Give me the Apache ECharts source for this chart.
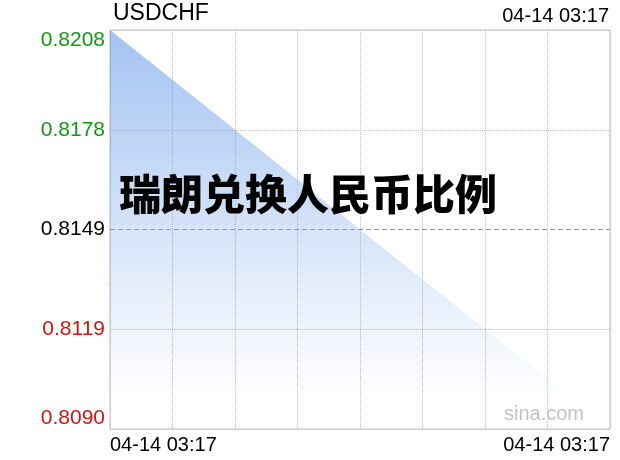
<!DOCTYPE html>
<html>
<head>
<meta charset="utf-8">
<script src="https://cdn.jsdelivr.net/npm/echarts@6/dist/echarts.min.js"></script>
<style>html,body{margin:0;padding:0;background:#fff}#c{width:620px;height:460px}</style>
</head>
<body>
<div id="c"></div>
<script>
// ---- data ----
var symbol = 'USDCHF';
var chartTitle = '瑞朗兑换人民币比例';
var times = ['04-14 03:17', '04-14 03:17'];
var values = [0.8208, 0.8090];
var yTickLabels = ['0.8090', '0.8119', '0.8149', '0.8178', '0.8208'];
var prevClose = 0.8149;
var prevCloseLine = [prevClose, prevClose];
var yMin = 0.8090, yMax = 0.8208;
var updateTime = '04-14 03:17';
var watermark = 'sina.com';

var FONT = 'Liberation Sans, Arial, Helvetica, sans-serif';
var chart = echarts.init(document.getElementById('c'), null, {renderer: 'canvas'});
var option = {
  animation: false,
  backgroundColor: '#fff',
  grid: {left: 110, right: 10, top: 30, bottom: 31, show: true, borderColor: '#bdbdbd', borderWidth: 1, backgroundColor: 'transparent'},
  xAxis: [
    {
      type: 'category', data: times, boundaryGap: false,
      axisLine: {show: false}, axisTick: {show: false}, splitLine: {show: false},
      axisLabel: {show: true, interval: 0, fontSize: 20, color: '#000', fontFamily: FONT, margin: 6,
        alignMinLabel: 'left', alignMaxLabel: 'right'}
    },
    {
      type: 'value', min: 0, max: 8, interval: 1, position: 'bottom',
      axisLine: {show: false}, axisTick: {show: false}, axisLabel: {show: false},
      splitLine: {show: true, lineStyle: {color: '#c4c4c4', type: [1, 1], width: 1}}
    }
  ],
  yAxis: [
    {
      type: 'value', min: yMin, max: yMax,
      axisLine: {show: false}, axisTick: {show: false}, axisLabel: {show: false}, splitLine: {show: false}
    },
    {
      type: 'category', data: yTickLabels, boundaryGap: false, position: 'left',
      axisLine: {show: false}, axisTick: {show: false},
      splitLine: {show: true, interval: 0, lineStyle: {color: ['#c4c4c4', '#c4c4c4', 'rgba(0,0,0,0)', '#c4c4c4', '#c4c4c4'], type: [1, 1], width: 1}},
      axisLabel: {
        interval: 0, fontSize: 21, fontFamily: FONT, margin: 5,
        verticalAlignMinLabel: 'bottom', verticalAlignMaxLabel: 'top',
        color: function (v) {
          var n = parseFloat(v);
          if (n > prevClose) return '#119a11';
          if (n < prevClose) return '#d21515';
          return '#000';
        }
      }
    }
  ],
  graphic: [
    {type: 'text', left: 113, top: 2, style: {text: symbol, fontSize: 23, fontFamily: FONT, fill: '#000'}},
    {type: 'text', right: 11, top: 6, style: {text: updateTime, fontSize: 20, fontFamily: FONT, fill: '#000'}},
    {type: 'text', right: 36, top: 404, style: {text: watermark, fontSize: 20, fontFamily: FONT, fill: '#c4c4c4'}},
    {type: 'text', left: 119, top: 173, z: 100, style: {text: chartTitle, fontSize: 42, fontWeight: 900, fontFamily: 'Noto Sans CJK SC', fill: '#000'}}
  ],
  series: [{
    type: 'line', xAxisIndex: 0, yAxisIndex: 0, data: values,
    showSymbol: false, symbol: 'none',
    lineStyle: {width: 0},
    areaStyle: {
      opacity: 1,
      color: new echarts.graphic.LinearGradient(0, 0, 0, 1, [
        {offset: 0, color: 'rgba(80,140,230,0.52)'},
        {offset: 0.92, color: 'rgba(80,140,230,0)'}
      ])
    }
  }, {
    type: 'line', xAxisIndex: 0, yAxisIndex: 0, data: prevCloseLine,
    showSymbol: false, symbol: 'none', silent: true,
    lineStyle: {color: '#999', type: [5, 3], width: 1}
  }]
};
chart.setOption(option);
</script>
</body>
</html>
